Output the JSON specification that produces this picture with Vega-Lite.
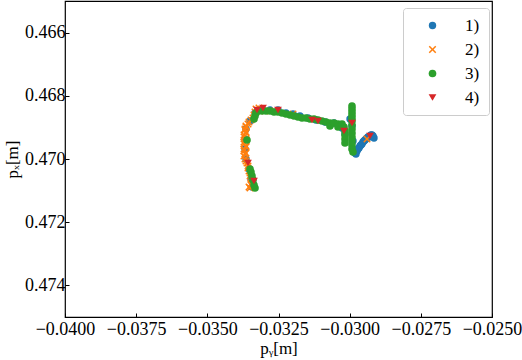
{
  "$schema": "https://vega.github.io/schema/vega-lite/v6.json",
  "width": 427,
  "height": 316,
  "autosize": "none",
  "padding": {"left": 65, "top": 1, "right": 30, "bottom": 43},
  "background": "white",
  "config": {
    "font": "Liberation Serif",
    "view": {"stroke": "black", "strokeWidth": 1.2},
    "axis": {"grid": false, "domain": false, "tickColor": "black", "labelColor": "black", "titleColor": "black", "labelFont": "Liberation Serif", "titleFont": "Liberation Serif", "labelFontSize": 18, "titleFontSize": 17, "titleFontWeight": "normal", "tickSize": -4, "tickWidth": 1, "labelOverlap": false, "labelFlush": false, "labelBound": false}
  },
  "data": {"values": [
    {"x": -0.033431, "y": 0.470886, "s": "1)"},
    {"x": -0.033466, "y": 0.470633, "s": "1)"},
    {"x": -0.033536, "y": 0.470316, "s": "1)"},
    {"x": -0.033642, "y": 0.470000, "s": "1)"},
    {"x": -0.033677, "y": 0.469684, "s": "1)"},
    {"x": -0.033677, "y": 0.469367, "s": "1)"},
    {"x": -0.033642, "y": 0.469051, "s": "1)"},
    {"x": -0.033501, "y": 0.468797, "s": "1)"},
    {"x": -0.033325, "y": 0.468544, "s": "1)"},
    {"x": -0.033080, "y": 0.468418, "s": "1)"},
    {"x": -0.032799, "y": 0.468449, "s": "1)"},
    {"x": -0.032518, "y": 0.468449, "s": "1)"},
    {"x": -0.032237, "y": 0.468544, "s": "1)"},
    {"x": -0.031991, "y": 0.468576, "s": "1)"},
    {"x": -0.031745, "y": 0.468639, "s": "1)"},
    {"x": -0.031464, "y": 0.468703, "s": "1)"},
    {"x": -0.031183, "y": 0.468766, "s": "1)"},
    {"x": -0.030867, "y": 0.468829, "s": "1)"},
    {"x": -0.030550, "y": 0.468861, "s": "1)"},
    {"x": -0.030269, "y": 0.469019, "s": "1)"},
    {"x": -0.030164, "y": 0.469209, "s": "1)"},
    {"x": -0.029988, "y": 0.468734, "s": "1)"},
    {"x": -0.029918, "y": 0.468956, "s": "1)"},
    {"x": -0.029883, "y": 0.469430, "s": "1)"},
    {"x": -0.029813, "y": 0.469810, "s": "1)"},
    {"x": -0.029778, "y": 0.469842, "s": "1)"},
    {"x": -0.029742, "y": 0.469747, "s": "1)"},
    {"x": -0.029707, "y": 0.469684, "s": "1)"},
    {"x": -0.029672, "y": 0.469652, "s": "1)"},
    {"x": -0.029637, "y": 0.469589, "s": "1)"},
    {"x": -0.029602, "y": 0.469557, "s": "1)"},
    {"x": -0.029567, "y": 0.469525, "s": "1)"},
    {"x": -0.029532, "y": 0.469462, "s": "1)"},
    {"x": -0.029497, "y": 0.469430, "s": "1)"},
    {"x": -0.029461, "y": 0.469399, "s": "1)"},
    {"x": -0.029426, "y": 0.469367, "s": "1)"},
    {"x": -0.029391, "y": 0.469335, "s": "1)"},
    {"x": -0.029356, "y": 0.469304, "s": "1)"},
    {"x": -0.029321, "y": 0.469304, "s": "1)"},
    {"x": -0.029286, "y": 0.469272, "s": "1)"},
    {"x": -0.029251, "y": 0.469240, "s": "1)"},
    {"x": -0.029215, "y": 0.469240, "s": "1)"},
    {"x": -0.029180, "y": 0.469272, "s": "1)"},
    {"x": -0.029145, "y": 0.469335, "s": "1)"},

    {"x": -0.033501, "y": 0.470918, "s": "2)"},
    {"x": -0.033536, "y": 0.470886, "s": "2)"},
    {"x": -0.033466, "y": 0.470823, "s": "2)"},
    {"x": -0.033466, "y": 0.470791, "s": "2)"},
    {"x": -0.033431, "y": 0.470665, "s": "2)"},
    {"x": -0.033466, "y": 0.470601, "s": "2)"},
    {"x": -0.033501, "y": 0.470538, "s": "2)"},
    {"x": -0.033501, "y": 0.470443, "s": "2)"},
    {"x": -0.033536, "y": 0.470380, "s": "2)"},
    {"x": -0.033571, "y": 0.470285, "s": "2)"},
    {"x": -0.033571, "y": 0.470222, "s": "2)"},
    {"x": -0.033607, "y": 0.470127, "s": "2)"},
    {"x": -0.033642, "y": 0.470063, "s": "2)"},
    {"x": -0.033677, "y": 0.470000, "s": "2)"},
    {"x": -0.033712, "y": 0.469905, "s": "2)"},
    {"x": -0.033677, "y": 0.469842, "s": "2)"},
    {"x": -0.033642, "y": 0.469810, "s": "2)"},
    {"x": -0.033712, "y": 0.469747, "s": "2)"},
    {"x": -0.033712, "y": 0.469684, "s": "2)"},
    {"x": -0.033642, "y": 0.469620, "s": "2)"},
    {"x": -0.033642, "y": 0.469589, "s": "2)"},
    {"x": -0.033712, "y": 0.469525, "s": "2)"},
    {"x": -0.033712, "y": 0.469462, "s": "2)"},
    {"x": -0.033642, "y": 0.469430, "s": "2)"},
    {"x": -0.033642, "y": 0.469367, "s": "2)"},
    {"x": -0.033712, "y": 0.469304, "s": "2)"},
    {"x": -0.033712, "y": 0.469240, "s": "2)"},
    {"x": -0.033642, "y": 0.469177, "s": "2)"},
    {"x": -0.033642, "y": 0.469146, "s": "2)"},
    {"x": -0.033677, "y": 0.469082, "s": "2)"},
    {"x": -0.033677, "y": 0.469051, "s": "2)"},
    {"x": -0.033642, "y": 0.468987, "s": "2)"},
    {"x": -0.033642, "y": 0.468956, "s": "2)"},
    {"x": -0.033571, "y": 0.468892, "s": "2)"},
    {"x": -0.033536, "y": 0.468829, "s": "2)"},
    {"x": -0.033466, "y": 0.468766, "s": "2)"},
    {"x": -0.033396, "y": 0.468703, "s": "2)"},
    {"x": -0.033361, "y": 0.468608, "s": "2)"},
    {"x": -0.033325, "y": 0.468513, "s": "2)"},
    {"x": -0.033290, "y": 0.468418, "s": "2)"},
    {"x": -0.033185, "y": 0.468386, "s": "2)"},
    {"x": -0.032974, "y": 0.468481, "s": "2)"},
    {"x": -0.032623, "y": 0.468481, "s": "2)"},
    {"x": -0.031991, "y": 0.468576, "s": "2)"},
    {"x": -0.029391, "y": 0.469367, "s": "2)"},

    {"x": -0.033325, "y": 0.470918, "s": "3)"},
    {"x": -0.033361, "y": 0.470823, "s": "3)"},
    {"x": -0.033396, "y": 0.470665, "s": "3)"},
    {"x": -0.033431, "y": 0.470538, "s": "3)"},
    {"x": -0.033466, "y": 0.470411, "s": "3)"},
    {"x": -0.033501, "y": 0.470316, "s": "3)"},
    {"x": -0.033607, "y": 0.469399, "s": "3)"},
    {"x": -0.033361, "y": 0.468734, "s": "3)"},
    {"x": -0.033325, "y": 0.468639, "s": "3)"},
    {"x": -0.033290, "y": 0.468544, "s": "3)"},
    {"x": -0.033220, "y": 0.468481, "s": "3)"},
    {"x": -0.033080, "y": 0.468481, "s": "3)"},
    {"x": -0.032939, "y": 0.468481, "s": "3)"},
    {"x": -0.032799, "y": 0.468481, "s": "3)"},
    {"x": -0.032658, "y": 0.468513, "s": "3)"},
    {"x": -0.032518, "y": 0.468513, "s": "3)"},
    {"x": -0.032377, "y": 0.468544, "s": "3)"},
    {"x": -0.032237, "y": 0.468576, "s": "3)"},
    {"x": -0.032096, "y": 0.468608, "s": "3)"},
    {"x": -0.031955, "y": 0.468639, "s": "3)"},
    {"x": -0.031815, "y": 0.468671, "s": "3)"},
    {"x": -0.031675, "y": 0.468703, "s": "3)"},
    {"x": -0.031534, "y": 0.468703, "s": "3)"},
    {"x": -0.031393, "y": 0.468734, "s": "3)"},
    {"x": -0.031253, "y": 0.468734, "s": "3)"},
    {"x": -0.031112, "y": 0.468766, "s": "3)"},
    {"x": -0.030972, "y": 0.468797, "s": "3)"},
    {"x": -0.030831, "y": 0.468829, "s": "3)"},
    {"x": -0.030691, "y": 0.468861, "s": "3)"},
    {"x": -0.030691, "y": 0.468956, "s": "3)"},
    {"x": -0.030550, "y": 0.468861, "s": "3)"},
    {"x": -0.030410, "y": 0.468892, "s": "3)"},
    {"x": -0.030410, "y": 0.468987, "s": "3)"},
    {"x": -0.030269, "y": 0.468892, "s": "3)"},
    {"x": -0.030199, "y": 0.468987, "s": "3)"},
    {"x": -0.030164, "y": 0.469114, "s": "3)"},
    {"x": -0.030164, "y": 0.469240, "s": "3)"},
    {"x": -0.030164, "y": 0.469367, "s": "3)"},
    {"x": -0.030164, "y": 0.469494, "s": "3)"},
    {"x": -0.029918, "y": 0.468323, "s": "3)"},
    {"x": -0.029918, "y": 0.468418, "s": "3)"},
    {"x": -0.029918, "y": 0.468513, "s": "3)"},
    {"x": -0.029918, "y": 0.468608, "s": "3)"},
    {"x": -0.029918, "y": 0.468703, "s": "3)"},
    {"x": -0.029918, "y": 0.468797, "s": "3)"},
    {"x": -0.029918, "y": 0.468924, "s": "3)"},
    {"x": -0.029918, "y": 0.469051, "s": "3)"},
    {"x": -0.029918, "y": 0.469177, "s": "3)"},
    {"x": -0.029918, "y": 0.469304, "s": "3)"},
    {"x": -0.029918, "y": 0.469430, "s": "3)"},
    {"x": -0.029918, "y": 0.469557, "s": "3)"},
    {"x": -0.029918, "y": 0.469684, "s": "3)"},
    {"x": -0.029883, "y": 0.469778, "s": "3)"},

    {"x": -0.033255, "y": 0.468449, "s": "4)"},
    {"x": -0.033044, "y": 0.468386, "s": "4)"},
    {"x": -0.032518, "y": 0.468449, "s": "4)"},
    {"x": -0.031323, "y": 0.468766, "s": "4)"},
    {"x": -0.031112, "y": 0.468797, "s": "4)"},
    {"x": -0.030199, "y": 0.469114, "s": "4)"},
    {"x": -0.029918, "y": 0.468861, "s": "4)"},
    {"x": -0.029286, "y": 0.469272, "s": "4)"},
    {"x": -0.033571, "y": 0.470127, "s": "4)"},
    {"x": -0.033361, "y": 0.470696, "s": "4)"}
  ]},
  "mark": {"type": "point", "filled": true, "opacity": 1, "strokeWidth": 0},
  "encoding": {
    "x": {"field": "x", "type": "quantitative",
      "scale": {"domain": [-0.04, -0.025], "nice": false, "zero": false},
      "axis": {"values": [-0.04, -0.0375, -0.035, -0.0325, -0.03, -0.0275, -0.025], "format": ".4f", "title": "pᵧ[m]", "labelPadding": 7, "titlePadding": 2}},
    "y": {"field": "y", "type": "quantitative",
      "scale": {"domain": [0.465, 0.475], "nice": false, "zero": false, "reverse": true},
      "axis": {"values": [0.466, 0.468, 0.47, 0.472, 0.474], "format": ".3f", "title": "pₓ[m]", "labelPadding": 4, "titlePadding": 3}},
    "color": {"field": "s", "type": "nominal",
      "scale": {"domain": ["1)", "2)", "3)", "4)"], "range": ["#1f77b4", "#ff7f0e", "#2ca02c", "#d62728"]},
      "legend": {"title": null, "orient": "none", "legendX": 338, "legendY": 7, "labelFont": "Liberation Serif", "labelFontSize": 17, "labelColor": "black", "labelOffset": 24, "symbolOffset": 12, "padding": 9, "rowPadding": 6, "strokeColor": "#cccccc", "fillColor": "white", "cornerRadius": 3, "symbolStrokeWidth": 0, "symbolOpacity": 1}},
    "shape": {"field": "s", "type": "nominal",
      "scale": {"domain": ["1)", "2)", "3)", "4)"], "range": ["circle", "M-1,-0.72L-0.72,-1L0,-0.28L0.72,-1L1,-0.72L0.28,0L1,0.72L0.72,1L0,0.28L-0.72,1L-1,0.72L-0.28,0Z", "circle", "triangle-down"]}},
    "size": {"field": "s", "type": "nominal",
      "scale": {"domain": ["1)", "2)", "3)", "4)"], "range": [55, 60, 20, 120]}},
    "order": {"field": "s"}
  }
}
